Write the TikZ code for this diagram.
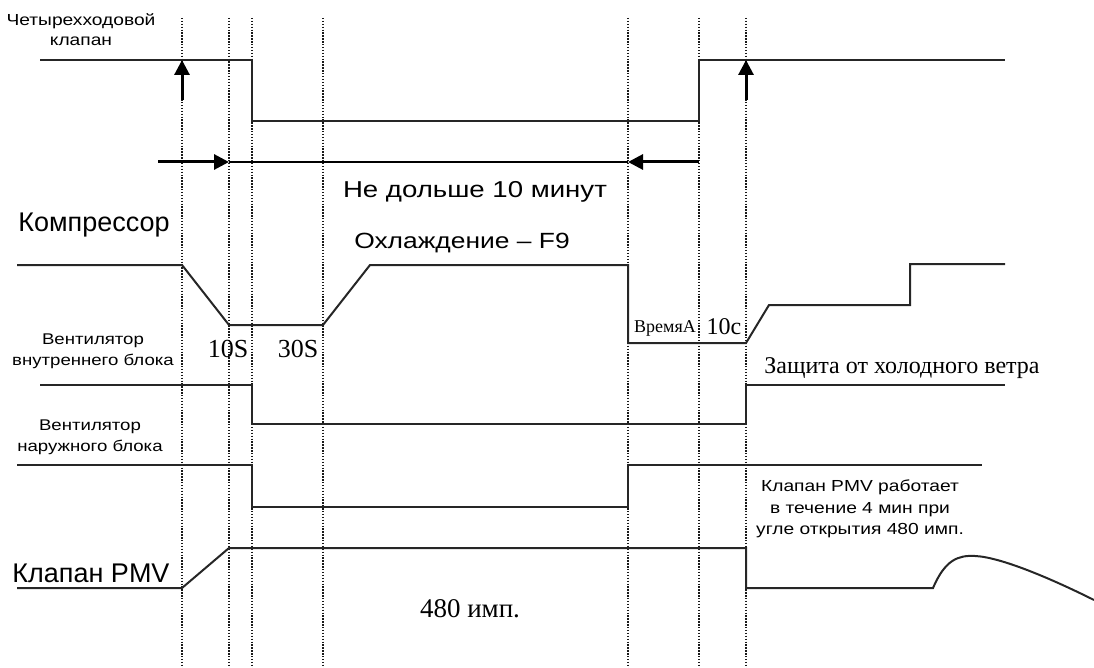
\documentclass[tikz,border=0pt]{standalone}
\usepackage{fontspec}
\setmainfont{Liberation Serif}
\setsansfont{Liberation Sans}
\newfontfamily\widesans[FakeStretch=1.2,Ligatures=TeX]{Liberation Sans}
\usetikzlibrary{arrows.meta,positioning}

\tikzset{
  sig/.style={line width=2pt, black!85},
  timeline/.style={line width=1.4pt, black!90, dash pattern=on 1.4pt off 1.5pt},
  bigarrow/.style={line width=3pt, -{Triangle[length=15pt,width=15pt]}},
  lbl/.style={font=\widesans\fontsize{15.5}{21}\selectfont, align=center, inner sep=0pt},
  biglbl/.style={font=\sffamily\fontsize{27}{30}\selectfont, inner sep=0pt},
  midlbl/.style={font=\widesans\fontsize{22}{26}\selectfont, inner sep=0pt},
  serlbl/.style={font=\fontsize{26}{28}\selectfont, inner sep=0pt}
}

\begin{document}
\begin{tikzpicture}[x=1pt,y=-1pt]
    \useasboundingbox (0,0) rectangle (1094,668);

    % dotted time marks
    \foreach \t in {182,229,252,323,628,699,746}
      \draw[timeline] (\t,18) -- (\t,668);

    % labels on the left
    \node[lbl, font=\widesans\fontsize{16}{20}\selectfont] (valve) at (81,30) {Четырехходовой\\клапан};
    \node[biglbl] (comp) at (94,225) {Компрессор};
    \node[lbl] (infan) at (93,351) {Вентилятор\\внутреннего блока};
    \node[lbl] (outfan) at (90,437) {Вентилятор\\наружного блока};
    \node[biglbl] (pmv) at (91,573) {Клапан PMV};

    % four-way valve
    \draw[sig] (40,60) -- (252,60) -- (252,121) -- (699,121) -- (699,60) -- (1005,60);
    \draw[bigarrow] (182,100) -- (182,60);
    \draw[bigarrow] (746,100) -- (746,60);

    % time window
    \coordinate (wl) at (229,162);
    \coordinate (wr) at (628,162);
    \draw[line width=1.5pt] (wl) -- (wr);
    \draw[bigarrow] (158,162) -- (wl);
    \draw[bigarrow] (699,162) -- (wr);
    \node[midlbl, font=\widesans\fontsize{23}{26}\selectfont] (limit) at (475,192) {Не дольше 10 минут};

    % compressor
    \draw[sig] (17,265) -- (182,265) -- (229,325) -- (323,325) -- (370,265)
      -- (628,265) -- (628,343) -- (746,343) -- (769,305) -- (910,305)
      -- (910,264) -- (1005,264);
    \node[midlbl] (cool) at (462,243) {Охлаждение – F9};
    \node[serlbl] (t10) at (228,349) {10S};
    \node[serlbl] (t30) at (298,349) {30S};
    \node[inner sep=0pt, font=\fontsize{18}{20}\selectfont] (timea) at (665,328) {ВремяA};
    \node[serlbl, font=\fontsize{24}{26}\selectfont] (t10c) at (724,327) {10с};

    % indoor fan
    \draw[sig] (40,385) -- (252,385) -- (252,424) -- (746,424) -- (746,385) -- (1005,385);
    \node[serlbl, font=\fontsize{24}{26}\selectfont] (cold) at (902,368) {Защита от холодного ветра};

    % outdoor fan
    \draw[sig] (17,465) -- (252,465) -- (252,507) -- (628,507) -- (628,465) -- (982,465);

    % PMV valve
    \draw[sig] (17,588) -- (182,588) -- (229,548) -- (746,548) -- (746,588) -- (933,588)
      .. controls (945,560) and (958,555) .. (975,556)
      .. controls (1000,557) and (1050,578) .. (1094,600);
    \node[serlbl, font=\fontsize{27}{29}\selectfont] (pulse) at (470,609) {480 имп.};
    \node[lbl, font=\widesans\fontsize{16}{21.5}\selectfont] (pmvnote) at (860,509)
      {Клапан PMV работает\\в течение 4 мин при\\угле открытия 480 имп.};
\end{tikzpicture}
\end{document}
